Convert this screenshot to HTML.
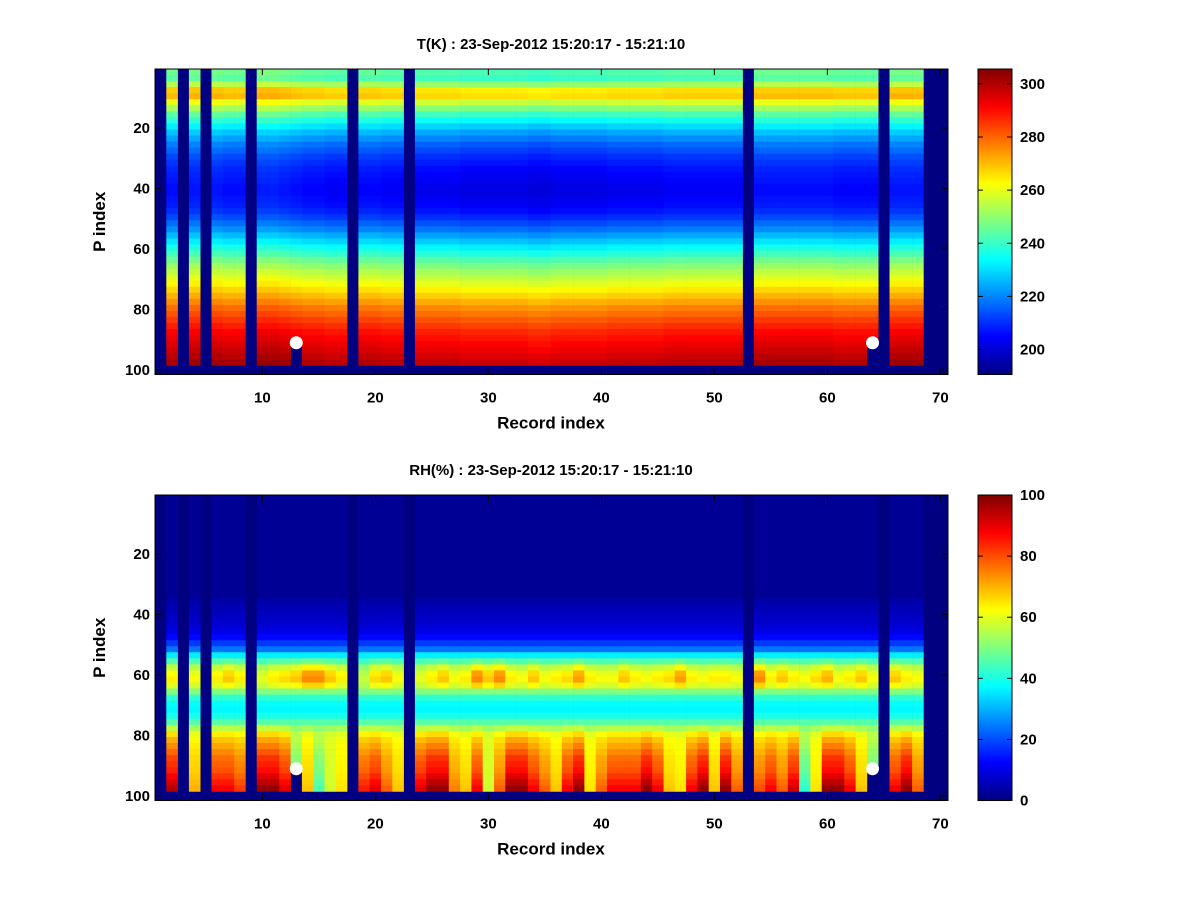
<!DOCTYPE html>
<html><head><meta charset="utf-8">
<style>
body{margin:0;background:#fff;}
svg text{font-family:"Liberation Sans",Arial,sans-serif;font-weight:bold;}
</style></head>
<body>
<svg id="fig" width="1200" height="900" viewBox="0 0 1200 900" xmlns="http://www.w3.org/2000/svg">
<rect width="1200" height="900" fill="#fff"/>
<defs>
<linearGradient id="jet" x1="0" y1="1" x2="0" y2="0">
<stop offset="0" stop-color="#000080"/><stop offset="0.125" stop-color="#0000ff"/><stop offset="0.375" stop-color="#00ffff"/><stop offset="0.625" stop-color="#ffff00"/><stop offset="0.875" stop-color="#ff0000"/><stop offset="1" stop-color="#800000"/>
</linearGradient>
</defs>
<g id="top"></g>
<g id="bot"></g>
</svg>
<script>
// ---- data ----
const recordCount = 70;
const missingCols = [1,3,5,9,18,23,53,65,69,70];
const truncatedCols = [13,64];
const truncatedAt = 90;
const markerRecords = [13,64];
const markerP = [91,91];
// T profile per pair of P rows (1-2, 3-4, ..., 97-98), rows 99-101 missing
const tProfile = [244,242,252,266,268,258,250,242,236,230,225,221,217,214,211,209,207,206,205,204,204,205,206,208,211,215,219,224,229,234,239,244,249,253,257,261,265,269,273,277,280,283,286,289,291,293,295,297,299];
const tColOffset = [0,2,0,3,0,3,2,2,0,4,4,3,2,1,1,0,0,0,1,1,0,0,0,-1,-1,-1,-1,-2,-2,-2,-2,-2,-2,-3,-3,-2,-2,-2,-2,-2,-1,-1,-1,-1,-1,0,0,0,0,0,0,0,0,2,2,2,2,2,2,2,1,1,1,1,0,3,3,3,0,0];
const rhProfile = [2,2,2,2,2,2,2,2,2,2,2,2,2,2,2,2,2,4,5,6,7,8,10,13,18,24,36,45,55,60,62,58,50,42,38,37,40,46,52,58,60,60,60,60,60,60,60,60,60];
const rhLowWeight = [0,0,0,0,0,0,0,0,0,0,0,0,0,0,0,0,0,0,0,0,0,0,0,0,0,0,0,0,0,0,0,0,0,0,0,0,0,0,0.1,0.2,0.3,0.4,0.5,0.6,0.65,0.7,0.8,0.9,1];
const rhMidWeight = [0,0,0,0,0,0,0,0,0,0,0,0,0,0,0,0,0,0,0,0,0,0,0,0,0,0,0,0.3,0.7,1,1,0.7,0,0,0,0,0,0,0,0,0,0,0,0,0,0,0,0,0];
const rhLow = [0,95,0,70,0,88,88,82,0,98,98,90,45,68,45,58,65,0,85,90,78,68,0,90,98,98,75,68,88,58,78,98,98,88,78,68,88,98,65,78,88,88,88,98,88,68,65,88,98,68,98,78,0,80,88,78,92,42,65,98,98,88,68,45,0,88,98,78,0,0];
const rhMid = [60,62,60,60,60,62,66,62,60,58,62,64,66,72,72,66,62,60,55,64,66,60,60,58,62,66,60,62,72,66,72,62,60,66,60,62,64,70,62,60,60,66,62,60,62,64,70,62,60,62,62,60,60,72,62,66,62,60,64,68,60,62,66,60,60,66,62,60,60,60];
const tTicks = [200,220,240,260,280,300];
const rhTicks = [0,20,40,60,80,100];
const xTicks = [10,20,30,40,50,60,70];
const yTicks = [20,40,60,80,100];
const tRange = [190.6,305.6];
const rhRange = [0,100];

const NS="http://www.w3.org/2000/svg";
function mk(tag,attrs,parent){const e=document.createElementNS(NS,tag);for(const k in attrs)e.setAttribute(k,attrs[k]);parent.appendChild(e);return e;}
function jet(t){t=Math.max(0,Math.min(1,t));const c=v=>Math.round(255*Math.max(0,Math.min(1,v)));
return `rgb(${c(1.5-Math.abs(4*t-3))},${c(1.5-Math.abs(4*t-2))},${c(1.5-Math.abs(4*t-1))})`;}

const AX={left:155,right:948,w:11.3,ph:3.025};
function panel(g,top,title,valueFn,range,cTicks,label){
  const xs=v=>AX.left+(v-0.5)*AX.w;
  const ys=p=>top+(p-0.5)*AX.ph;
  const bottom=ys(101.5);
  let e=mk('rect',{x:AX.left,y:top,width:AX.right-AX.left,height:bottom-top,fill:'#000080'},g);
  
  
  for(let c=1;c<=recordCount;c++){
    if(missingCols.includes(c))continue;
    for(let i=0;i<tProfile.length;i++){
      const p=1+2*i;
      if(truncatedCols.includes(c)&&p>truncatedAt)continue;
      const v=valueFn(c,i);
      const r=mk('rect',{x:xs(c-0.5).toFixed(2),y:ys(p-0.5).toFixed(2),width:(AX.w+0.3).toFixed(2),height:(2*AX.ph+0.3).toFixed(2),fill:jet((v-range[0])/(range[1]-range[0]))},g);
      
      
    }
  }
  for(let k=0;k<markerRecords.length;k++){
    const m=mk('circle',{cx:xs(markerRecords[k]),cy:ys(markerP[k]),r:6.5,fill:'#fff'},g);
    
    
  }
  e=mk('rect',{x:AX.left,y:top,width:AX.right-AX.left,height:bottom-top,fill:'none',stroke:'#000','stroke-width':1},g);
  
  
  xTicks.forEach(t=>{
    const x=xs(t);
    mk('line',{x1:x,y1:bottom,x2:x,y2:bottom-6,stroke:'#000'},g);
    mk('line',{x1:x,y1:top,x2:x,y2:top+6,stroke:'#000'},g);
    const tx=mk('text',{x:x,y:bottom+28,'text-anchor':'middle','font-size':15},g);
    tx.textContent=t;
    
    
  });
  yTicks.forEach(t=>{
    const y=ys(t);
    mk('line',{x1:AX.left,y1:y,x2:AX.left+6,y2:y,stroke:'#000'},g);
    mk('line',{x1:AX.right,y1:y,x2:AX.right-6,y2:y,stroke:'#000'},g);
    const tx=mk('text',{x:AX.left-5,y:y+5,'text-anchor':'end','font-size':15},g);
    tx.textContent=t;
    
    
  });
  let t=mk('text',{x:551,y:top-20,'text-anchor':'middle','font-size':15},g);
  t.textContent=title;
  
  
  t=mk('text',{x:551,y:bottom+54,'text-anchor':'middle','font-size':17},g);
  t.textContent='Record index';
  
  
  t=mk('text',{x:0,y:0,'text-anchor':'middle','font-size':17,transform:`translate(105,${(top+bottom)/2}) rotate(-90)`},g);
  t.textContent='P index';
  
  
  // colorbar
  const cx=978,cw=34;
  e=mk('rect',{x:cx,y:top,width:cw,height:bottom-top,fill:'url(#jet)',stroke:'#000'},g);
  
  
  const cy=v=>bottom-(v-range[0])/(range[1]-range[0])*(bottom-top);
  cTicks.forEach(v=>{
    const y=cy(v);
    mk('line',{x1:cx,y1:y,x2:cx+5,y2:y,stroke:'#000'},g);
    mk('line',{x1:cx+cw,y1:y,x2:cx+cw-5,y2:y,stroke:'#000'},g);
    const tx=mk('text',{x:cx+cw+8,y:y+5,'font-size':15},g);
    tx.textContent=v;
    
    
  });
}
panel(document.getElementById('top'),69,'T(K) : 23-Sep-2012 15:20:17 - 15:21:10',
  (c,i)=>tProfile[i]+tColOffset[c-1],tRange,tTicks);
panel(document.getElementById('bot'),495,'RH(%) : 23-Sep-2012 15:20:17 - 15:21:10',
  (c,i)=>rhProfile[i]*(1-rhLowWeight[i])+rhLow[c-1]*rhLowWeight[i]+rhMidWeight[i]*(rhMid[c-1]-60),rhRange,rhTicks);
</script>
</body></html>
